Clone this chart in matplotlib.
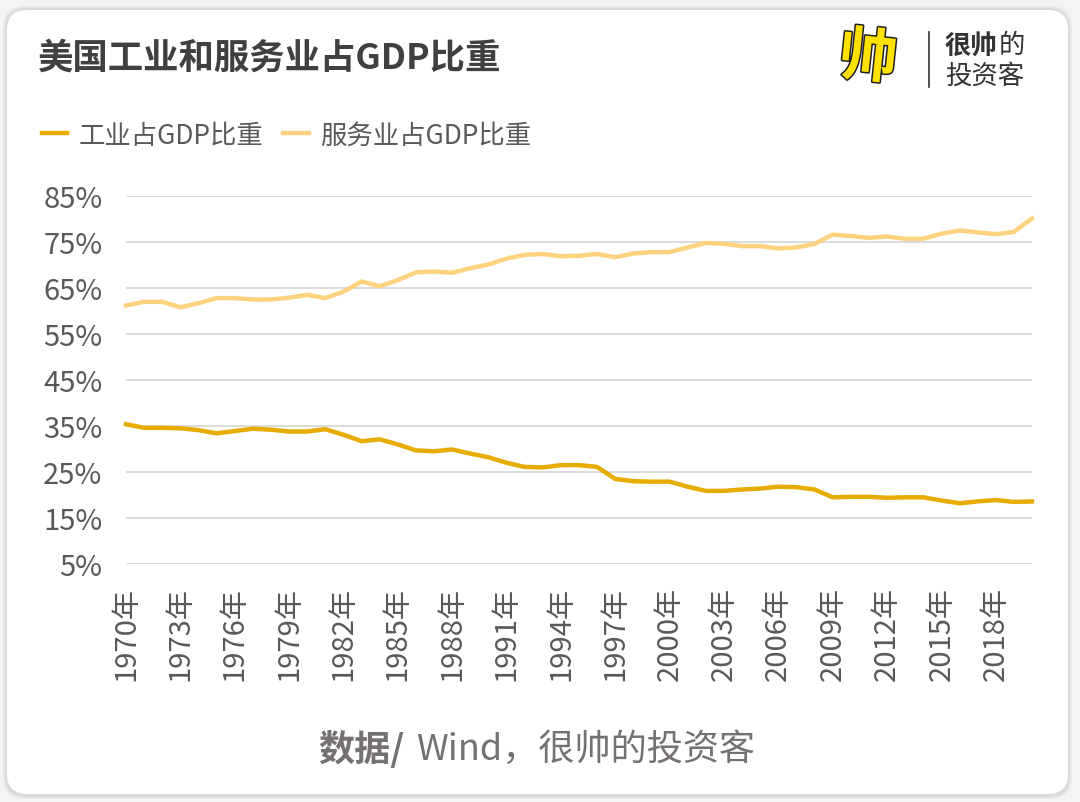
import matplotlib
matplotlib.use("Agg")
import matplotlib.pyplot as plt
import matplotlib.patheffects as pe
from matplotlib.patches import FancyBboxPatch
from matplotlib.lines import Line2D

plt.rcParams['font.family'] = ['Noto Sans CJK SC', 'DejaVu Sans']

years = list(range(1970, 2021))
industry = [35.4, 34.6, 34.6, 34.5, 34.1, 33.4, 33.9, 34.4, 34.2, 33.8,
            33.8, 34.3, 33.1, 31.7, 32.1, 31.0, 29.7, 29.5, 29.9, 29.0,
            28.2, 27.0, 26.1, 26.0, 26.5, 26.5, 26.1, 23.5, 23.0, 22.9,
            22.9, 21.8, 20.9, 20.9, 21.2, 21.4, 21.8, 21.7, 21.2, 19.5,
            19.6, 19.6, 19.4, 19.5, 19.5, 18.8, 18.2, 18.6, 18.9, 18.5,
            18.6]
services = [61.2, 62.0, 62.0, 60.8, 61.7, 62.8, 62.8, 62.5, 62.5, 62.9,
            63.5, 62.8, 64.2, 66.4, 65.4, 66.7, 68.4, 68.6, 68.3, 69.3,
            70.1, 71.4, 72.2, 72.4, 71.9, 72.0, 72.4, 71.7, 72.5, 72.8,
            72.8, 73.8, 74.8, 74.6, 74.1, 74.1, 73.6, 73.8, 74.6, 76.6,
            76.3, 75.9, 76.2, 75.7, 75.7, 76.8, 77.5, 77.1, 76.7, 77.2,
            80.1]
yticks = [5, 15, 25, 35, 45, 55, 65, 75, 85]
xticks = list(range(1970, 2020, 3))

c_ind = '#E6AC00'
c_srv = '#FFD27F'
gray = '#595959'

W, H = 1080, 803
fig = plt.figure(figsize=(W / 100, H / 100), dpi=100)
fig.patch.set_facecolor('#F4F4F4')

# card with soft shadow
for i, a in enumerate([0.10, 0.10, 0.12]):
    g = 3 - i
    fig.patches.append(FancyBboxPatch((6 - g, 6 - g), 1063 + 2 * g, 787 + 2 * g,
                                      boxstyle="round,pad=0,rounding_size=22",
                                      transform=None, facecolor='#9E9E9E', edgecolor='none',
                                      alpha=a, zorder=-10))
fig.patches.append(FancyBboxPatch((7, 8), 1061, 784,
                                  boxstyle="round,pad=0,rounding_size=20",
                                  transform=None, facecolor='white', edgecolor='none', zorder=-9))

ax = fig.add_axes([126 / W, 1 - 565 / H, 906 / W, 368 / H])
ax.set_facecolor('none')
ax.plot(years, services, color=c_srv, lw=3.2, label='服务业占GDP比重', clip_on=False, zorder=3)
ax.plot(years, industry, color=c_ind, lw=3.2, label='工业占GDP比重', clip_on=False, zorder=3)
ax.set_xlim(1970, 2020)
ax.set_ylim(5, 85)
ax.set_yticks(yticks)
ax.set_yticklabels([f'{v}%' for v in yticks])
ax.set_xticks(xticks)
ax.set_xticklabels([f'{v}年' for v in xticks], rotation=90)
ax.grid(axis='y', color='#D9D9D9', lw=1.3)
ax.set_axisbelow(True)
for s in ax.spines.values():
    s.set_visible(False)
ax.tick_params(axis='both', length=0, labelsize=21, labelcolor=gray)
ax.tick_params(axis='y', pad=17)
ax.tick_params(axis='x', pad=16)
for lab in ax.get_xticklabels() + ax.get_yticklabels():
    lab.set_fontweight('light')

# legend
handles = [Line2D([], [], color=c_ind, lw=3.2), Line2D([], [], color=c_srv, lw=3.2)]
fig.legend(handles, ['工业占GDP比重', '服务业占GDP比重'], loc='center left',
           bbox_to_anchor=(42 / W, 1 - 136 / H), ncol=2, frameon=False,
           labelcolor=gray, handlelength=0.95, handletextpad=0.45,
           columnspacing=0.75, borderpad=0, borderaxespad=0,
           prop={'size': 19, 'weight': 'light'})

# title
fig.text(38 / W, 1 - 58 / H, '美国工业和服务业占GDP比重', fontsize=25.5, fontweight='bold',
         color='#404040', va='center', ha='left')

# logo
fig.text(868 / W, 1 - 60 / H, '帅', fontsize=42, fontweight='heavy', color='#FFE100',
         ha='center', va='center', rotation=-6,
         path_effects=[pe.withSimplePatchShadow(offset=(-3, -4), shadow_rgbFace='white', alpha=1),
                       pe.Stroke(linewidth=2.2, foreground='#222222'), pe.Normal()])
fig.add_artist(Line2D([929 / W, 929 / W], [1 - 33 / H, 1 - 88 / H], color='#333333', lw=1.2))
fig.text(945 / W, 1 - 46 / H, '很帅', fontsize=19, fontweight='bold', color='#333333',
         ha='left', va='center')
fig.text(999 / W, 1 - 46 / H, '的', fontsize=19, color='#333333', ha='left', va='center')
fig.text(945 / W, 1 - 76 / H, '投资客', fontsize=19, color='#333333', ha='left', va='center')

# source
fig.text(404 / W, 1 - 750 / H, '数据/', fontsize=26, fontweight='bold', color='#757171',
         ha='right', va='center')
fig.text(416 / W, 1 - 750 / H, 'Wind，很帅的投资客', fontsize=26, fontweight='light',
         color='#757171', ha='left', va='center')

fig.savefig('out.png', dpi=100, facecolor=fig.get_facecolor())
